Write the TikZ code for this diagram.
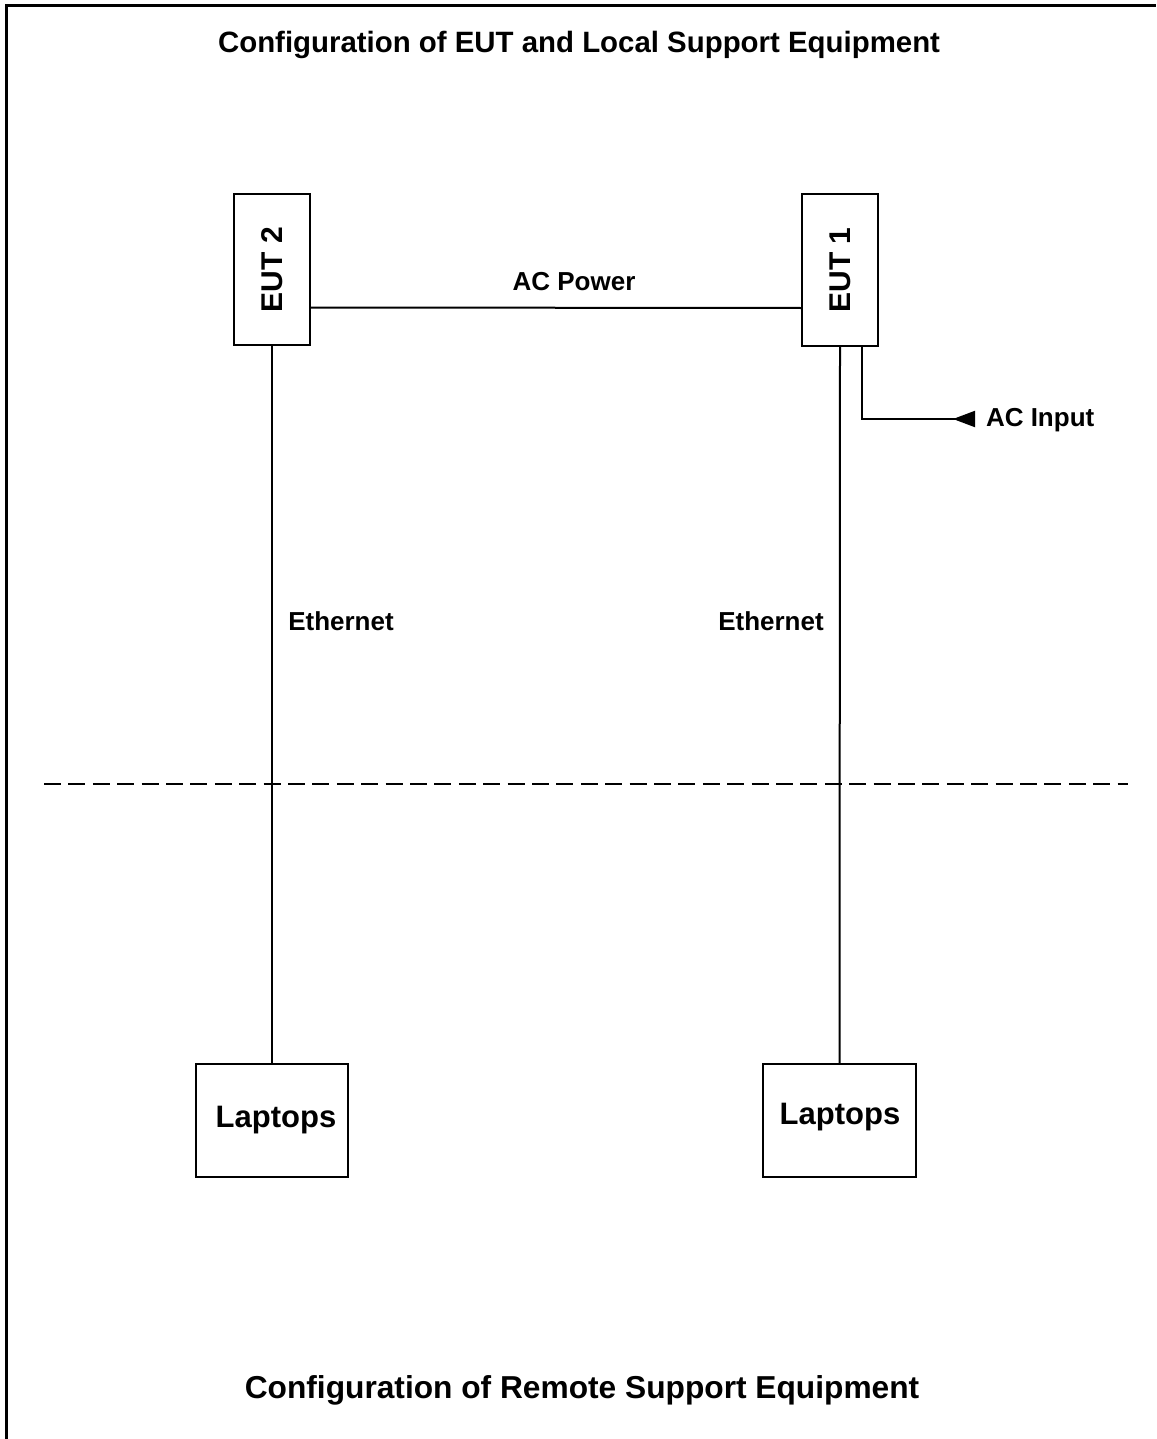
\documentclass[tikz,border=0pt]{standalone}
\usepackage{fontspec}
\setmainfont{Liberation Sans}
\usetikzlibrary{arrows.meta}
\begin{document}
\begin{tikzpicture}[x=1pt,y=-1pt,
  line width=2pt,
  boxnode/.style={draw, line width=2pt, inner sep=0pt, fill=white},
  lbl/.style={inner sep=0pt, font=\fontsize{26}{30}\selectfont\bfseries},
  biglbl/.style={inner sep=0pt, font=\fontsize{31}{36}\selectfont\bfseries},
  titlelbl/.style={inner sep=0pt}]
\useasboundingbox (0,0) rectangle (1156,1439);
% frame
\coordinate (fbl) at (6.5,1439);
\coordinate (ftl) at (6.5,6);
\coordinate (ftr) at (1156,6);
\draw[line width=3pt] (fbl) -- (ftl) -- (ftr);
% titles
\node[titlelbl, font=\fontsize{29.4}{34}\selectfont\bfseries] (ttop) at (579,45) {Configuration of EUT and Local Support Equipment};
\node[titlelbl, font=\fontsize{31.7}{36}\selectfont\bfseries] (tbot) at (582,1390) {Configuration of Remote Support Equipment};
% boxes
\node[boxnode, minimum width=76pt, minimum height=151pt] (eut2) at (272,269.5) {\fontsize{30}{34}\selectfont\bfseries\rotatebox{90}{EUT 2}};
\node[boxnode, minimum width=76pt, minimum height=152pt] (eut1) at (840,270) {\fontsize{30}{34}\selectfont\bfseries\rotatebox{90}{EUT 1}};
\node[boxnode, minimum width=152pt, minimum height=113pt] (lap2) at (272,1120.5) {};
\node[biglbl] (lap2t) at (276,1120) {Laptops};
\node[boxnode, minimum width=153pt, minimum height=113pt] (lap1) at (839.5,1120.5) {};
\node[biglbl] (lap1t) at (840,1117) {Laptops};
% dashed separator
\coordinate (dl) at (44,784);
\coordinate (dr) at (1128,784);
\draw[dash pattern=on 17pt off 7.4pt] (dl) -- (dr);
% connectors
\draw ([yshift=-38pt]eut2.east) -- ([yshift=-38pt]eut1.west);
\node[lbl] (acp) at (574,282) {AC Power};
\draw (eut2.south) -- (lap2.north);
\draw (eut1.south) -- (lap1.north);
\node[lbl] (eth2) at (341,621) {Ethernet};
\node[lbl] (eth1) at (771,621) {Ethernet};
\node[lbl, anchor=west] (acin) at (985,420) {AC Input};
\coordinate (acend) at (975,419);
\draw[-{Triangle[reversed,length=22pt,width=16pt]}] ([xshift=22pt]eut1.south) |- (acend);
\end{tikzpicture}
\end{document}
